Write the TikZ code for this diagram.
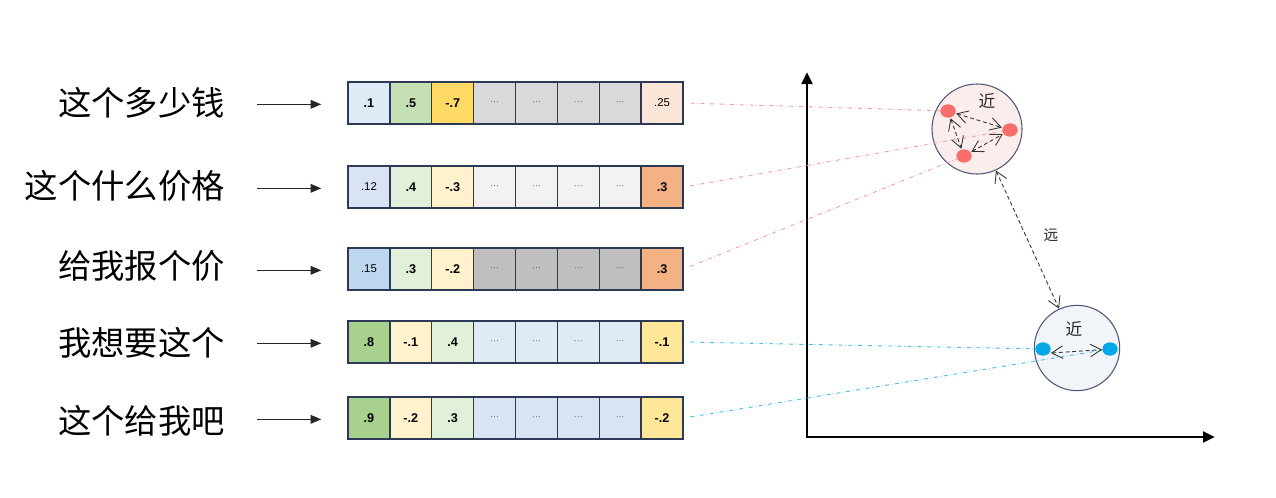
\documentclass[tikz,border=0pt]{standalone}
\usepackage{fontspec}
\usetikzlibrary{arrows.meta,shapes.geometric}
\newfontfamily\cjk{Noto Sans CJK SC}
\newfontfamily\cellfont{Liberation Sans}
\definecolor{bordc}{HTML}{2C3A55}
\definecolor{cA}{HTML}{DEEBF7}
\definecolor{cB}{HTML}{C5E0B4}
\definecolor{cC}{HTML}{FFD966}
\definecolor{cG1}{HTML}{D9D9D9}
\definecolor{cP}{HTML}{FBE5D6}
\definecolor{cL}{HTML}{DAE3F3}
\definecolor{cLG}{HTML}{E2F0D9}
\definecolor{cLY}{HTML}{FFF2CC}
\definecolor{cG2}{HTML}{F2F2F2}
\definecolor{cO}{HTML}{F4B183}
\definecolor{cBl}{HTML}{BDD7EE}
\definecolor{cG3}{HTML}{BFBFBF}
\definecolor{cDG}{HTML}{A9D18E}
\definecolor{cY}{HTML}{FFE699}
\definecolor{redline}{HTML}{F2A2A2}
\definecolor{blueline}{HTML}{4CBFE6}
\definecolor{reddot}{HTML}{F86C6C}
\definecolor{bluedot}{HTML}{00A8E8}
\definecolor{redfill}{HTML}{FCEDED}
\definecolor{bluefill}{HTML}{F1F5FA}
\definecolor{circbord}{HTML}{505878}
\tikzset{
  cell/.style={draw=bordc, line width=1.1pt, minimum width=31.4pt, minimum height=31.5pt, inner sep=0pt, font=\cellfont\bfseries\fontsize{9.5}{10}\selectfont},
  thin cell/.style={font=\cellfont\fontsize{8.5}{10}\selectfont},
  dots/.style={font=\cellfont\fontsize{6.5}{7}\selectfont, text=black!70},
  lab/.style={anchor=east, font=\cjk\fontsize{25}{30}\selectfont, inner sep=0pt},
  inarrow/.style={-{Triangle[length=8pt,width=6.5pt]}, line width=0.9pt, black!85, shorten <=24pt, shorten >=19.5pt},
  dotnode/.style={ellipse, minimum width=11.5pt, minimum height=10pt, inner sep=0pt},
  link/.style={dash dot, line width=0.7pt},
  rel/.style={{Straight Barb[angle=60:9.5pt]}-{Straight Barb[angle=60:9.5pt]}, densely dashed, line width=0.65pt, black!80},
  cluster/.style={circle, draw=circbord, line width=0.8pt, minimum size=67.5pt, inner sep=0pt},
  axis/.style={line width=2.2pt, -{Triangle[length=9pt,width=8pt]}},
  near/.style={font=\cjk\fontsize{12.5}{14}\selectfont, text=black!85},
}
\begin{document}
\begin{tikzpicture}[x=0.75pt,y=-0.75pt]
\useasboundingbox (0,0) rectangle (1276,497);
% labels
\node[lab] (l1) at (225,103) {这个多少钱};
\node[lab] (l2) at (225,186) {这个什么价格};
\node[lab] (l3) at (225,266) {给我报个价};
\node[lab] (l4) at (225,343) {我想要这个};
\node[lab] (l5) at (225,421) {这个给我吧};
% rows
\foreach \c/\t/\s [count=\i] in {cA/.1/cell,cB/.5/cell,cC/-.7/cell,cG1/···/dots,cG1/···/dots,cG1/···/dots,cG1/···/dots,cP/.25/thin cell}
  \node[cell,\s,fill=\c] (r1c\i) at ({348+(\i-0.5)*41.875},103) {\t};
\foreach \c/\t/\s [count=\i] in {cL/.12/thin cell,cLG/.4/cell,cLY/-.3/cell,cG2/···/dots,cG2/···/dots,cG2/···/dots,cG2/···/dots,cO/.3/cell}
  \node[cell,\s,fill=\c] (r2c\i) at ({348+(\i-0.5)*41.875},187) {\t};
\foreach \c/\t/\s [count=\i] in {cBl/.15/thin cell,cLG/.3/cell,cLY/-.2/cell,cG3/···/dots,cG3/···/dots,cG3/···/dots,cG3/···/dots,cO/.3/cell}
  \node[cell,\s,fill=\c] (r3c\i) at ({348+(\i-0.5)*41.875},269) {\t};
\foreach \c/\t/\s [count=\i] in {cDG/.8/cell,cLY/-.1/cell,cLG/.4/cell,cA/···/dots,cA/···/dots,cA/···/dots,cA/···/dots,cY/-.1/cell}
  \node[cell,\s,fill=\c] (r4c\i) at ({348+(\i-0.5)*41.875},342) {\t};
\foreach \c/\t/\s [count=\i] in {cDG/.9/cell,cLY/-.2/cell,cLG/.3/cell,cL/···/dots,cL/···/dots,cL/···/dots,cL/···/dots,cY/-.2/cell}
  \node[cell,\s,fill=\c] (r5c\i) at ({348+(\i-0.5)*41.875},418) {\t};
% input arrows
\foreach \i in {1,...,5}
  \draw[inarrow] ([yshift=-1pt]l\i.east |- r\i c1.west) -- ([yshift=-1pt]r\i c1.west);
% axes
\coordinate (o) at (807,437);
\coordinate (ytop) at (807,72);
\coordinate (xend) at (1215,437);
\draw[axis] ([yshift=-1pt]o) -- (ytop);
\draw[axis] ([xshift=-1pt]o) -- (xend);
% clusters
\node[cluster, fill=redfill] (cr) at (977,129) {};
\node[cluster, fill=bluefill, minimum size=64pt] (cb) at (1077,348) {};
\node[near] (n1) at (987,101) {近};
\node[near] (n2) at (1074,329) {近};
% dots positions
\coordinate (p1) at (948,111);
\coordinate (p2) at (1010,130);
\coordinate (p3) at (964,156);
\coordinate (p4) at (1043,349);
\coordinate (p5) at (1110,349);
% links
\draw[link, redline, shorten <=5pt] (r1c8.east) -- (p1);
\draw[link, redline, shorten <=5pt] (r2c8.east) -- (p2);
\draw[link, redline, shorten <=5pt] (r3c8.east) -- (p3);
\draw[link, blueline, shorten <=5pt] (r4c8.east) -- (p4);
\draw[link, blueline, shorten <=5pt] (r5c8.east) -- (p5);
% dots
\node[dotnode, fill=reddot] (d1) at (p1) {};
\node[dotnode, fill=reddot] (d2) at (p2) {};
\node[dotnode, fill=reddot] (d3) at (p3) {};
\node[dotnode, fill=bluedot] (d4) at (p4) {};
\node[dotnode, fill=bluedot] (d5) at (p5) {};
% relations
\draw[rel, shorten <=0.5pt, shorten >=0.5pt] (d1) -- (d2);
\draw[rel, shorten <=0.5pt, shorten >=0.5pt] (d1) -- (d3);
\draw[rel, shorten <=0.5pt, shorten >=0.5pt] (d3) -- (d2);
\draw[rel] ([yshift=-3pt]d4.east) -- ([yshift=-0.5pt]d5.west);
\draw[rel] (cr) -- (cb);
\node[near, font=\cjk\fontsize{11}{13}\selectfont] (far) at (1051,235) {远};
\end{tikzpicture}
\end{document}
